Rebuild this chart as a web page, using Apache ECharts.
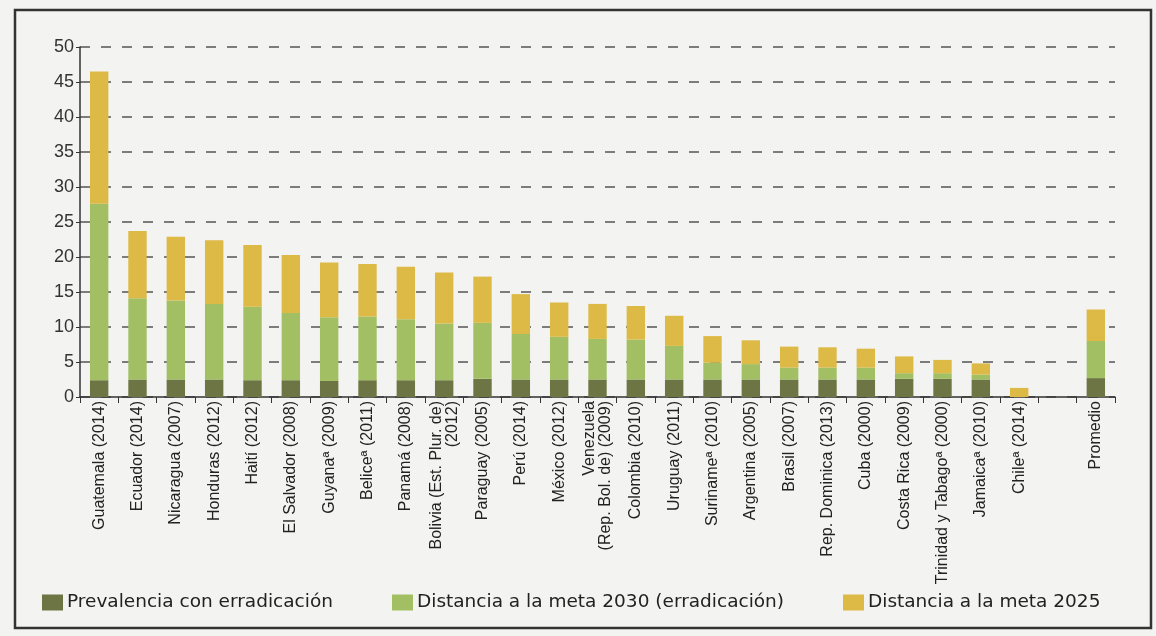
<!DOCTYPE html>
<html>
<head>
<meta charset="utf-8">
<script src="https://cdn.jsdelivr.net/npm/echarts@6/dist/echarts.min.js"></script>
<style>
html,body{margin:0;padding:0;background:#f3f3f1;}
#c{width:1156px;height:636px;}
</style>
</head>
<body>
<div id="c"></div>
<script>
var categories = [
  "Guatemala (2014)", "Ecuador (2014)", "Nicaragua (2007)", "Honduras (2012)", "Haití (2012)",
  "El Salvador (2008)", "Guyanaª (2009)", "Beliceª (2011)", "Panamá (2008)",
  "Bolivia (Est. Plur. de)\n(2012)", "Paraguay (2005)", "Perú (2014)", "México (2012)",
  "Venezuela\n(Rep. Bol. de) (2009)", "Colombia (2010)", "Uruguay (2011)", "Surinameª (2010)",
  "Argentina (2005)", "Brasil (2007)", "Rep. Dominica (2013)", "Cuba (2000)", "Costa Rica (2009)",
  "Trinidad y Tabagoª (2000)", "Jamaicaª (2010)", "Chileª (2014)", "", "Promedio"
];
// Read values: prevalence with eradication, distance to 2030 goal, distance to 2025 goal
var prevalencia = [2.4, 2.5, 2.5, 2.5, 2.4, 2.4, 2.3, 2.4, 2.4, 2.4, 2.6, 2.5, 2.5, 2.5, 2.5, 2.5, 2.5, 2.5, 2.5, 2.5, 2.5, 2.6, 2.6, 2.5, 0, null, 2.7];
var distancia2030 = [25.2, 11.6, 11.3, 10.8, 10.5, 9.6, 9.1, 9.1, 8.7, 8.1, 8.0, 6.5, 6.1, 5.8, 5.7, 4.8, 2.4, 2.2, 1.7, 1.7, 1.7, 0.8, 0.8, 0.7, 0, null, 5.3];
var distancia2025 = [18.9, 9.6, 9.1, 9.1, 8.8, 8.3, 7.8, 7.5, 7.5, 7.3, 6.6, 5.7, 4.9, 5.0, 4.8, 4.3, 3.8, 3.4, 3.0, 2.9, 2.7, 2.4, 1.9, 1.6, 1.3, null, 4.5];
var yTicks = [0, 5, 10, 15, 20, 25, 30, 35, 40, 45, 50];
var seriesNames = ["Prevalencia con erradicación", "Distancia a la meta 2030 (erradicación)", "Distancia a la meta 2025"];
var colors = ["#6d7544", "#a2c063", "#ddb945"];

var chart = echarts.init(document.getElementById('c'));
var font = "Liberation Sans, Arial, sans-serif";
function legendAt(name, left) {
  return {
    data: [name], left: left, top: 588, itemWidth: 21, itemHeight: 16, icon: 'rect',
    textStyle: {fontFamily: "DejaVu Sans, sans-serif", fontSize: 18.5, color: '#222', padding: [0, 0, 0, -1]}, itemGap: 6
  };
}
chart.setOption({
  backgroundColor: '#f3f3f1',
  animation: false,
  color: colors,
  graphic: [{
    type: 'rect', shape: {x: 15, y: 10, width: 1136, height: 618},
    style: {fill: 'none', stroke: '#333', lineWidth: 2.5}, silent: true
  }],
  legend: [legendAt(seriesNames[0], 37), legendAt(seriesNames[1], 387), legendAt(seriesNames[2], 838)],
  grid: {left: 80, right: 41, top: 47, bottom: 239, containLabel: false},
  xAxis: {
    type: 'category', data: categories, boundaryGap: true,
    axisLine: {lineStyle: {color: '#333', width: 1.5}},
    axisTick: {show: true, alignWithLabel: false, length: 6, lineStyle: {color: '#333'}},
    axisLabel: {rotate: 90, interval: 0, fontFamily: font, fontSize: 16, color: '#222', margin: 4, lineHeight: 16}
  },
  yAxis: {
    type: 'value', min: 0, max: 50, interval: 5,
    axisLine: {show: true, lineStyle: {color: '#333', width: 1.5}},
    axisTick: {show: true, length: 4, lineStyle: {color: '#333'}},
    axisLabel: {fontFamily: font, fontSize: 18, color: '#333', margin: 6,
      formatter: function (v) { return yTicks.indexOf(v) >= 0 ? String(v) : ''; }},
    splitLine: {show: true, lineStyle: {color: '#555', type: [10, 11], width: 1.5}}
  },
  series: [
    {name: seriesNames[0], type: 'bar', stack: 't', data: prevalencia, barWidth: '48%'},
    {name: seriesNames[1], type: 'bar', stack: 't', data: distancia2030, barWidth: '48%'},
    {name: seriesNames[2], type: 'bar', stack: 't', data: distancia2025, barWidth: '48%'}
  ]
});
</script>
</body>
</html>
